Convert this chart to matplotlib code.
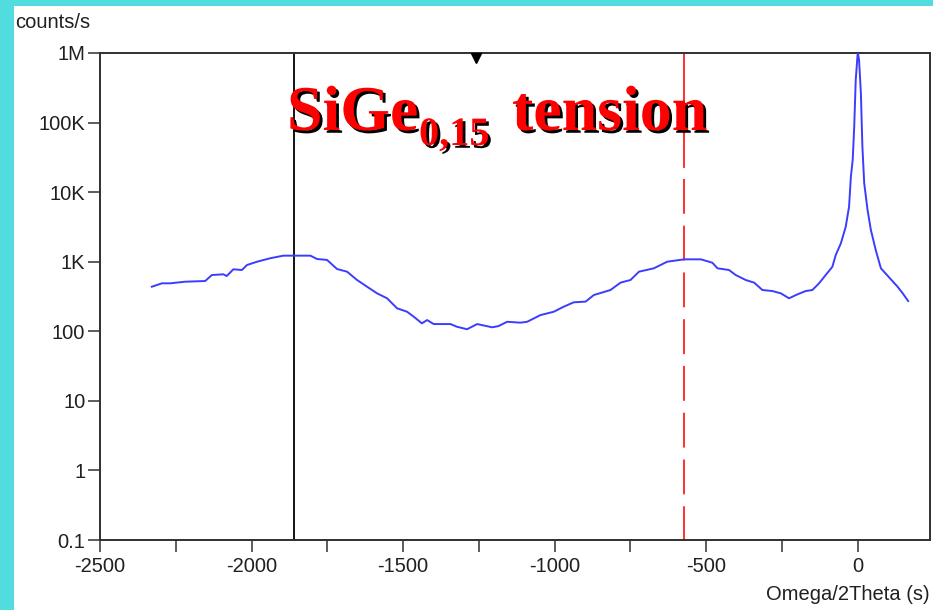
"""Omega/2Theta rocking curve of a strained SiGe(0.15) layer, log intensity."""
import matplotlib

matplotlib.use("Agg")
import matplotlib.pyplot as plt
import matplotlib.patheffects as pe
from matplotlib.patches import Rectangle
from matplotlib.transforms import offset_copy

# scan: angle (s) and intensity (counts/s)
omega = [-2329, -2296, -2269, -2219, -2153, -2131, -2093, -2082, -2060, -2032,
         -2015, -1982, -1939, -1895, -1859, -1806, -1784, -1751, -1718, -1685,
         -1652, -1619, -1586, -1553, -1520, -1487, -1465, -1438, -1421, -1399,
         -1344, -1322, -1289, -1256, -1206, -1185, -1157, -1113, -1091, -1047,
         -1003, -970, -937, -898, -871, -816, -783, -750, -722, -673,
         -629, -573, -518, -480, -463, -425, -403, -370, -342, -315,
         -282, -254, -227, -199, -172, -150, -128, -106, -84, -73,
         -56, -40, -29, -23, -17, -12, -7, -1, 0, 4,
         10, 15, 21, 32, 43, 59, 76, 109, 131, 148, 166]
counts = [437, 489, 489, 516, 528, 644, 659, 623, 778, 760,
          897, 1000, 1120, 1222, 1222, 1222, 1094, 1060, 785, 719,
          546, 437, 351, 298, 214, 191, 162, 130, 145, 127,
          127, 116, 107, 127, 114, 119, 137, 133, 137, 171,
          191, 226, 261, 267, 332, 392, 500, 546, 719, 804,
          1000, 1082, 1082, 968, 804, 760, 644, 546, 500, 392,
          379, 351, 298, 340, 379, 392, 489, 644, 847, 1248,
          1837, 3184, 6180, 16670, 28970, 87300, 409000, 935000, 1000000, 793000,
          263600, 45000, 13400, 5540, 2857, 1473, 804, 558, 437, 351, 272]

y_ticks = [0.1, 1, 10, 100, 1e3, 1e4, 1e5, 1e6]
y_ticklabels = ["0.1", "1", "10", "100", "1K", "10K", "100K", "1M"]
x_ticks = list(range(-2500, 1, 250))
x_ticklabels = ["-2500", "", "-2000", "", "-1500", "", "-1000", "", "-500", "", "0"]

substrate_mark = -1861   # black cursor
layer_mark = -574        # red dashed cursor
peak_marker = -1261      # small triangle on the top frame

W, H = 933, 610
plt.rcParams["font.family"] = ["Liberation Sans Narrow", "Liberation Sans", "DejaVu Sans"]

fig = plt.figure(figsize=(W / 100, H / 100), dpi=100, facecolor="#52dcdf")
fig.patches.append(Rectangle((14 / W, 0), 1, 1 - 6 / H, transform=fig.transFigure,
                             facecolor="white", edgecolor="none", zorder=-5))

ax = fig.add_axes([100 / W, (H - 540) / H, 830 / W, 487 / H])
ax.set_yscale("log")
ax.set_xlim(-2500, 238)
ax.set_ylim(0.1, 1e6)

ax.plot(omega, counts, color="#3c3cff", lw=1.4, zorder=3)

ax.axvline(substrate_mark, color="black", lw=1.3, zorder=2)
# red cursor: solid at the top, dashed below
ax.plot([layer_mark, layer_mark], [2.3e4, 1e6], color="#ff2020", lw=1.3, zorder=2)
ax.plot([layer_mark, layer_mark], [2.3e4, 0.1], color="#ff2020", lw=1.3, zorder=2,
        linestyle=(19.3, (19.3, 6.6)))

ax.plot([peak_marker], [1e6], marker="v", ms=7, color="black", clip_on=False,
        transform=offset_copy(ax.transData, fig=fig, y=-5, units="dots"), zorder=5)

ax.set_yticks(y_ticks)
ax.set_yticklabels(y_ticklabels)
ax.minorticks_off()
ax.set_xticks(x_ticks)
ax.set_xticklabels(x_ticklabels)
ax.tick_params(length=8.6, width=1.1, color="#303030", labelsize=14.5,
               labelcolor="#202020", pad=2)
ax.tick_params(axis="x", pad=4)
for s in ax.spines.values():
    s.set_linewidth(1.4)
    s.set_color("#303030")

fig.text(15 / W, 1 - 23 / H, "counts/s", fontsize=14.5, color="#202020", va="center")
fig.text(930 / W, 1 - 594 / H, "Omega/2Theta (s)", fontsize=14.5, color="#202020",
         ha="right", va="center")

# title in three pieces so the subscript can be sized like the original
shadow = [pe.SimplePatchShadow(offset=(2, -2), shadow_rgbFace="black", alpha=1), pe.Normal()]
title_kw = dict(family="Liberation Serif", weight="bold", color="#ff0000",
                va="baseline", zorder=10, path_effects=shadow)
fig.text(287 / W, 1 - 130 / H, "SiGe", fontsize=46, **title_kw)
fig.text(419 / W, 1 - 145 / H, "0,15", fontsize=29, **title_kw)
fig.text(512 / W, 1 - 130 / H, "tension", fontsize=46, **title_kw)

fig.savefig("out.png", dpi=100, facecolor=fig.get_facecolor())
